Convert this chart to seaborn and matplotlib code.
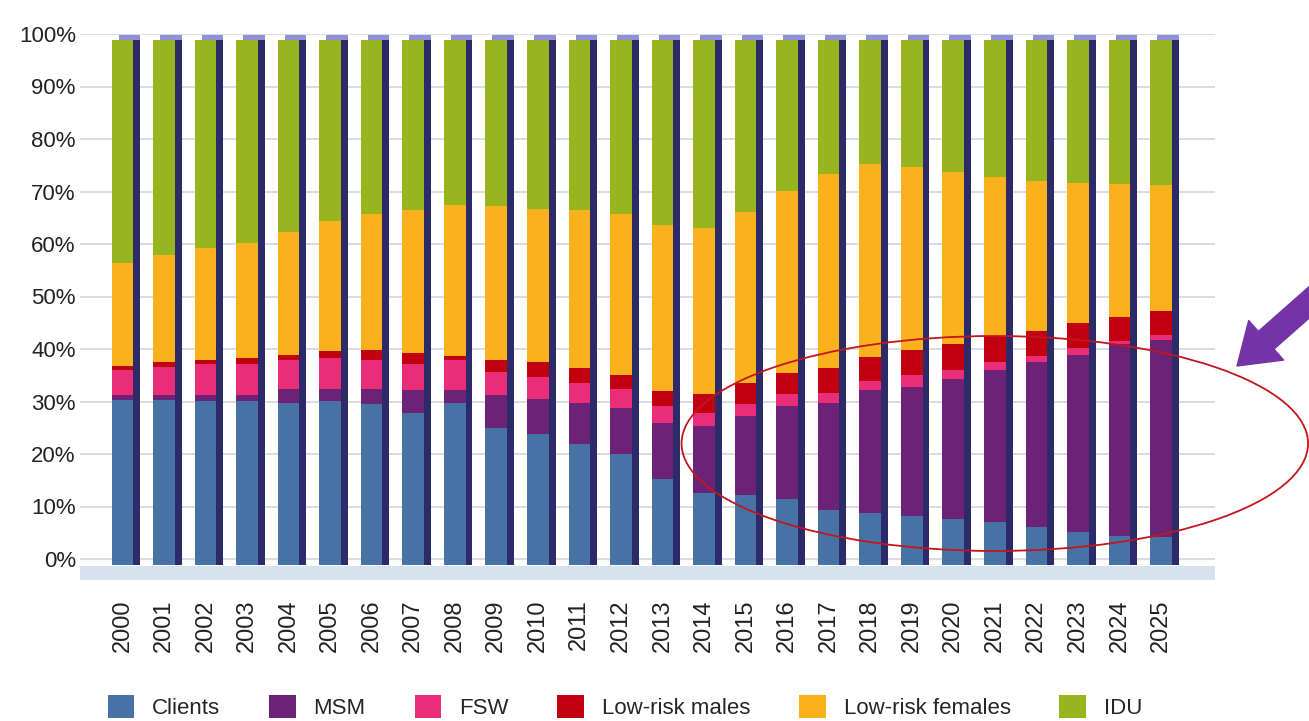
import numpy as np
import matplotlib
matplotlib.use('Agg')
import matplotlib.pyplot as plt
import seaborn as sns
from matplotlib import patheffects as pe
from matplotlib import transforms as mtransforms
from matplotlib.patches import Ellipse, Patch

# share of new infections by group (percent)
years = [str(y) for y in range(2000, 2026)]
clients = [31.5, 31.5, 31.2, 31.3, 30.9, 31.2, 30.6, 29.0, 30.9, 26.1, 24.9, 23.1, 21.1,
           16.4, 13.7, 13.3, 12.5, 10.5, 9.9, 9.4, 8.7, 8.1, 7.2, 6.2, 5.6, 5.3]
msm = [0.8, 0.8, 1.1, 1.0, 2.6, 2.3, 2.9, 4.3, 2.5, 6.2, 6.7, 7.8, 8.8,
       10.7, 12.7, 15.0, 17.7, 20.4, 23.4, 24.6, 26.7, 29.1, 31.4, 33.8, 36.5, 37.6]
fsw = [4.9, 5.5, 6.0, 6.0, 5.5, 5.9, 5.5, 5.0, 5.7, 4.4, 4.3, 3.8, 3.6,
       3.1, 2.6, 2.3, 2.4, 1.8, 1.7, 2.1, 1.8, 1.4, 1.2, 1.3, 0.6, 0.9]
low_risk_males = [0.8, 0.8, 0.8, 1.1, 1.0, 1.3, 1.9, 2.1, 0.7, 2.3, 2.7, 2.8, 2.7,
                  2.9, 3.6, 4.1, 4.0, 4.8, 4.6, 4.8, 4.9, 5.0, 4.7, 4.8, 4.6, 4.5]
low_risk_females = [19.6, 20.4, 21.2, 21.9, 23.4, 24.8, 26.0, 27.3, 28.7, 29.3, 29.3, 30.1, 30.7,
                    31.6, 31.5, 32.5, 34.7, 37.0, 36.7, 34.9, 32.7, 30.3, 28.6, 26.6, 25.3, 24.0]
idu = [42.4, 41.0, 39.7, 38.7, 36.6, 34.5, 33.1, 32.3, 31.5, 31.7, 32.1, 32.4, 33.1,
       35.3, 35.9, 32.8, 28.7, 25.5, 23.7, 24.2, 25.2, 26.1, 26.9, 27.3, 27.4, 27.7]

groups = ['Clients', 'MSM', 'FSW', 'Low-risk males', 'Low-risk females', 'IDU']
colors = ['#4672a6', '#6c2277', '#e92d78', '#c3000f', '#fbb11b', '#98b41f']
y_ticks = list(range(0, 101, 10))

sns.set_style('white')
plt.rcParams['font.family'] = ['Liberation Sans', 'DejaVu Sans']

fig = plt.figure(figsize=(13.09, 7.21), dpi=100)
ax = fig.add_axes([80 / 1309, 141 / 721, 1135 / 1309, 546 / 721])

stack = np.cumsum(np.array([clients, msm, fsw, low_risk_males, low_risk_females, idu]), axis=0)

# bars sit a little below the back-wall gridlines, like the 3D original
shift = mtransforms.ScaledTranslation(0, -6 / 100, fig.dpi_scale_trans)

# draw cumulative totals from the top group down so each layer covers the next
for i in reversed(range(len(groups))):
    sns.barplot(x=years, y=stack[i], color=colors[i], width=0.52, saturation=1,
                linewidth=0, errorbar=None, ax=ax, zorder=3)
    for p in ax.containers[-1]:
        p.set_transform(ax.transData + shift)
        if i == len(groups) - 1:
            p.set_path_effects([
                pe.SimplePatchShadow(offset=(5, 3.5), shadow_rgbFace='#8e91d4', alpha=1),
                pe.SimplePatchShadow(offset=(5, 0), shadow_rgbFace='#2c2a68', alpha=1),
                pe.Normal(),
            ])

# floor of the 3D chart
ax.axhspan(-4, -1.3, color='#d4e3ed', lw=0, zorder=1)

ax.set_xlim(-1.02, 26.3)
ax.set_ylim(-4, 100)
ax.set_yticks(y_ticks)
ax.set_yticklabels([f'{v}%' for v in y_ticks], fontsize=16, color='#222222')
ax.yaxis.grid(True, color='#d3d6de', lw=1.2)
ax.set_axisbelow(True)
ax.tick_params(axis='y', length=0, pad=3)
ax.tick_params(axis='x', length=0, pad=14, labelsize=17, labelcolor='#222222')
plt.setp(ax.get_xticklabels(), rotation=90)
ax.set_xlabel('')
ax.set_ylabel('')
sns.despine(ax=ax, left=True, bottom=True)

# highlight of the MSM rise
ax.add_patch(Ellipse((21.0, 22.0), width=15.08, height=40.95, fill=False,
                     edgecolor='#c3161c', lw=1.3, clip_on=False, zorder=5))
ax.annotate('', xy=(1237, 355), xycoords='figure pixels',
            xytext=(1322, 430), textcoords='figure pixels',
            arrowprops=dict(arrowstyle='simple,head_length=1.4,head_width=1.9,tail_width=0.85',
                            color='#7434a8', mutation_scale=20, shrinkA=0, shrinkB=0),
            annotation_clip=False)

handles = [Patch(facecolor=c, edgecolor='none', label=g) for g, c in zip(groups, colors)]
fig.legend(handles=handles, loc='center', bbox_to_anchor=(625 / 1309, 14 / 721), ncol=6,
           frameon=False, fontsize=16, handlelength=1.2, handleheight=1.2,
           handletextpad=0.8, columnspacing=2.2)

fig.savefig('out.png', dpi=100)
